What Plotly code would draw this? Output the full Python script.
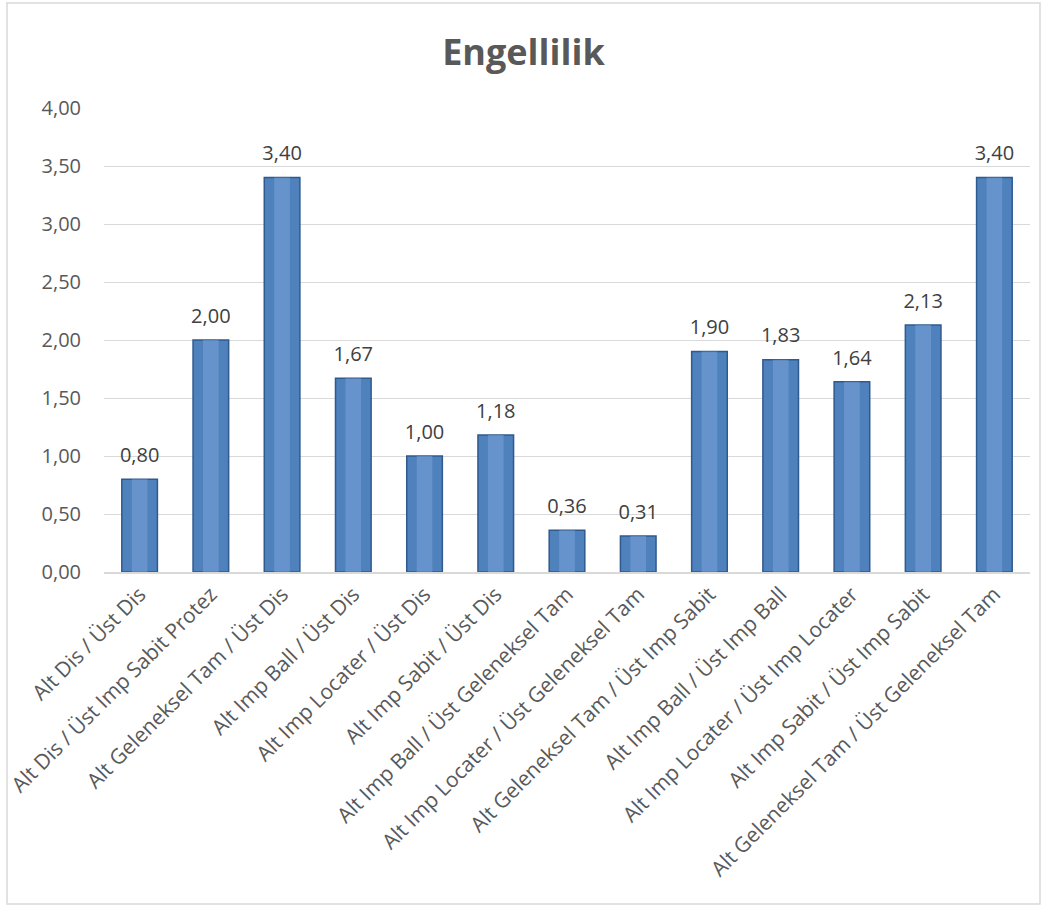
import plotly.graph_objects as go

categories = [
    "Alt Dis / Üst Dis",
    "Alt Dis / Üst Imp Sabit Protez",
    "Alt Geleneksel Tam / Üst Dis",
    "Alt Imp Ball / Üst Dis",
    "Alt Imp Locater / Üst Dis",
    "Alt Imp Sabit / Üst Dis",
    "Alt Imp Ball / Üst Geleneksel Tam",
    "Alt Imp Locater / Üst Geleneksel Tam",
    "Alt Geleneksel Tam / Üst Imp Sabit",
    "Alt Imp Ball / Üst Imp Ball",
    "Alt Imp Locater / Üst Imp Locater",
    "Alt Imp Sabit / Üst Imp Sabit",
    "Alt Geleneksel Tam / Üst Geleneksel Tam",
]
values = [0.80, 2.00, 3.40, 1.67, 1.00, 1.18, 0.36, 0.31, 1.90, 1.83, 1.64, 2.13, 3.40]
tick_vals = [0, 0.5, 1.0, 1.5, 2.0, 2.5, 3.0, 3.5, 4.0]

W, H = 1047, 909
ml, mr, mt, mb = 104, 17, 108, 337
pw = W - ml - mr
ph = H - mt - mb

fig = go.Figure()
fig.add_trace(go.Bar(
    x=categories, y=values,
    marker=dict(color="#4F81BD", line=dict(color="#2F5A8E", width=1.5)),
    hoverinfo="skip",
))
# lighter highlight in the middle of each bar
fig.add_trace(go.Bar(
    x=categories, y=values,
    marker=dict(color="rgba(125,165,220,0.5)", line=dict(width=0)),
    width=0.22, hoverinfo="skip",
))
# data labels
fig.add_trace(go.Scatter(
    x=categories, y=values, mode="markers+text",
    marker=dict(size=18, color="rgba(0,0,0,0)"),
    text=[f"{v:.2f}".replace(".", ",") for v in values],
    textposition="top center",
    textfont=dict(family="Open Sans", size=20, color="#404040"),
    cliponaxis=False, hoverinfo="skip",
))

fig.update_layout(
    width=W, height=H,
    margin=dict(l=ml, r=mr, t=mt, b=mb),
    paper_bgcolor="white", plot_bgcolor="white",
    separators=",.",
    showlegend=False,
    barmode="overlay",
    bargap=0.5,
    title=dict(text="<b>Engellilik</b>", x=0.5, xanchor="center", y=1 - 52 / H, yanchor="middle",
               font=dict(family="Open Sans", size=36, color="#595959")),
    font=dict(family="Open Sans", color="#595959"),
)
fig.update_yaxes(range=[0, 4], tickvals=tick_vals, tickformat=".2f",
                 showgrid=True, gridcolor="#D9D9D9", gridwidth=1,
                 zeroline=False, showline=False, ticks="",
                 tickfont=dict(family="Open Sans", size=20, color="#595959"),
                 ticklabelstandoff=22, automargin=False)
fig.update_xaxes(range=[-0.5, len(categories) - 0.5],
                 tickangle=-45, showline=True, linecolor="#D9D9D9", linewidth=1.5,
                 ticks="", tickfont=dict(family="Open Sans", size=21, color="#595959"),
                 automargin=False)

# chart border
fig.add_shape(type="rect", xref="paper", yref="paper",
              x0=(7 - ml) / pw, x1=(1040 - ml) / pw,
              y0=-(904 - (H - mb)) / ph, y1=1 + (mt - 3) / ph,
              line=dict(color="#D9D9D9", width=1.5), fillcolor="rgba(0,0,0,0)", layer="below")

fig.write_html("out.html")
